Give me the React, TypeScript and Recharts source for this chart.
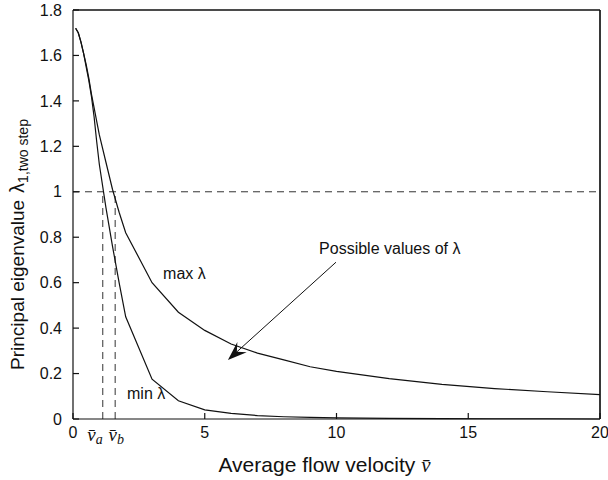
import { LineChart, Line, XAxis, YAxis, ReferenceLine, ReferenceDot, CartesianGrid } from "recharts"

// average flow velocity (x) and the two eigenvalue bounds
const velocity = [0.1, 0.2, 0.3, 0.4, 0.5, 0.6, 0.7, 0.8, 0.9, 1, 1.25, 1.5, 1.75, 2, 3, 4, 5, 6, 7, 8, 9, 10, 12, 14, 16, 18, 20]
const maxLambda = [1.72, 1.7, 1.66, 1.61, 1.56, 1.5, 1.43, 1.37, 1.31, 1.25, 1.13, 1.01, 0.91, 0.82, 0.6, 0.47, 0.39, 0.33, 0.29, 0.26, 0.23, 0.21, 0.178, 0.152, 0.134, 0.12, 0.107]
const minLambda = [1.72, 1.7, 1.66, 1.61, 1.55, 1.49, 1.42, 1.33, 1.22, 1.12, 0.93, 0.76, 0.6, 0.45, 0.175, 0.08, 0.04, 0.025, 0.015, 0.01, 0.007, 0.005, 0.003, 0.002, 0.001, 0.001, 0]

const xTicks = [0, 5, 10, 15, 20]
const yTicks = [0, 0.2, 0.4, 0.6, 0.8, 1, 1.2, 1.4, 1.6, 1.8]
const xMax = 20
const yMax = 1.8

const threshold = 1
const vA = 1.13
const vB = 1.6
const arrowFrom = { x: 9.98, y: 0.69 }
const arrowTo = { x: 5.88, y: 0.26 }

const data = velocity.map((v, i) => ({ v, max: maxLambda[i], min: minLambda[i] }))

const sans = "'Liberation Sans', Arial, Helvetica, sans-serif"
const serif = "'Liberation Serif', 'DejaVu Serif', serif"
const ink = "#111"

function ArrowShape(props: any) {
  const { x1, y1, x2, y2 } = props
  const dx = x2 - x1
  const dy = y2 - y1
  const len = Math.sqrt(dx * dx + dy * dy)
  const ux = dx / len
  const uy = dy / len
  const nx = -uy
  const ny = ux
  const L = 19
  const W = 7
  const notch = 12
  const pts = [
    [x2, y2],
    [x2 - L * ux + W * nx, y2 - L * uy + W * ny],
    [x2 - notch * ux, y2 - notch * uy],
    [x2 - L * ux - W * nx, y2 - L * uy - W * ny],
  ]
    .map((p) => p.join(","))
    .join(" ")
  return (
    <g>
      <line x1={x1} y1={y1} x2={x2 - notch * ux} y2={y2 - notch * uy} stroke={ink} strokeWidth={1} />
      <polygon points={pts} fill={ink} />
    </g>
  )
}

const textAt = (label: string, size = 16) => (p: any) => (
  <text x={p.cx} y={p.cy} fontFamily={sans} fontSize={size} fill={ink} dominantBaseline="middle">
    {label}
  </text>
)

const vLabel = (sub: string, anchor: "end" | "middle", shift: number) => (p: any) => (
  <text x={p.cx + shift} y={p.cy + 22} fontFamily={serif} fontSize={19} fontStyle="italic" fill={ink} textAnchor={anchor}>
    {"v\u0304"}
    <tspan fontSize={14} dy={3}>
      {sub}
    </tspan>
  </text>
)

function YLabel(props: any) {
  const vb = props.viewBox
  const cx = 24
  const cy = vb.y + vb.height / 2 + 30
  return (
    <text transform={`translate(${cx},${cy}) rotate(-90)`} textAnchor="middle" fontFamily={sans} fontSize={19} fill={ink}>
      Principal eigenvalue
      <tspan dx={7} fontSize={20}>
        {"\u03bb"}
      </tspan>
      <tspan fontSize={14} dy={4}>
        1,two step
      </tspan>
    </text>
  )
}

function XLabel(props: any) {
  const vb = props.viewBox
  return (
    <text x={vb.x + vb.width / 2 - 12} y={vb.y + 53} textAnchor="middle" fontFamily={sans} fontSize={21} fill={ink}>
      Average flow velocity{" "}
      <tspan fontFamily={serif} fontStyle="italic" fontSize={21}>
        {"v\u0304"}
      </tspan>
    </text>
  )
}

export default function App() {
  const tickStyle = { fontFamily: sans, fontSize: 16, fill: ink }
  return (
    <div style={{ position: "absolute", left: 0, top: 0, background: "#fff" }}>
      <LineChart width={608} height={480} data={data} margin={{ top: 0, right: 0, left: 0, bottom: 0 }}>
        {/* top and right edges of the box */}
        <CartesianGrid
          stroke={ink}
          strokeWidth={1.2}
          horizontalCoordinatesGenerator={(p: any) => [p.offset.top]}
          verticalCoordinatesGenerator={(p: any) => [p.offset.left + p.offset.width]}
        />
        <XAxis
          dataKey="v"
          type="number"
          domain={[0, xMax]}
          ticks={xTicks}
          height={61}
          tickSize={-6}
          tickMargin={14}
          tick={tickStyle}
          stroke={ink}
          strokeWidth={1.2}
          label={{ content: XLabel }}
        />
        <XAxis
          xAxisId="top"
          dataKey="v"
          orientation="top"
          type="number"
          domain={[0, xMax]}
          ticks={xTicks}
          height={10}
          tickSize={-6}
          tick={false}
          stroke={ink}
          strokeWidth={1.2}
        />
        <YAxis
          type="number"
          domain={[0, yMax]}
          ticks={yTicks}
          width={73}
          tickSize={-6}
          tickMargin={17}
          tick={tickStyle}
          stroke={ink}
          strokeWidth={1.2}
          label={{ content: YLabel }}
        />
        <YAxis
          yAxisId="right"
          orientation="right"
          type="number"
          domain={[0, yMax]}
          ticks={yTicks}
          width={8}
          tickSize={-6}
          tick={false}
          stroke={ink}
          strokeWidth={1.2}
        />

        <ReferenceLine y={threshold} stroke="#333" strokeDasharray="7 5" />
        <ReferenceLine segment={[{ x: vA, y: 0 }, { x: vA, y: threshold }]} stroke="#333" strokeDasharray="7 5" />
        <ReferenceLine segment={[{ x: vB, y: 0 }, { x: vB, y: threshold }]} stroke="#333" strokeDasharray="7 5" />

        {/* transparent copy so the top/right frame axes have a series */}
        <Line xAxisId="top" yAxisId="right" type="linear" dataKey="max" stroke="#fff" strokeOpacity={0} dot={false} activeDot={false} isAnimationActive={false} />
        <Line type="linear" dataKey="max" stroke={ink} strokeWidth={1.2} dot={false} isAnimationActive={false} />
        <Line type="linear" dataKey="min" stroke={ink} strokeWidth={1.2} dot={false} isAnimationActive={false} />

        <ReferenceLine segment={[arrowFrom, arrowTo]} shape={ArrowShape} />

        <ReferenceDot x={3.42} y={0.634} r={0} shape={textAt("max \u03bb")} />
        <ReferenceDot x={2.05} y={0.106} r={0} shape={textAt("min \u03bb")} />
        <ReferenceDot x={9.34} y={0.745} r={0} shape={textAt("Possible values of \u03bb")} />
        <ReferenceDot x={vA} y={0} r={0} shape={vLabel("a", "end", 0)} />
        <ReferenceDot x={vB} y={0} r={0} shape={vLabel("b", "middle", 1)} />
      </LineChart>
    </div>
  )
}
